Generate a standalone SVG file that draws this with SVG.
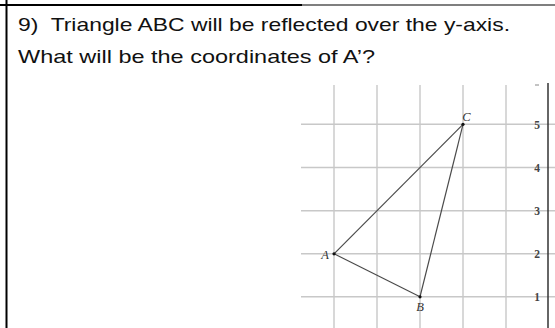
<svg xmlns="http://www.w3.org/2000/svg" width="555" height="328" viewBox="0 0 555 328">
<style>
.q{font-family:"Liberation Sans","Open Sans",sans-serif;font-size:19px;fill:#111;white-space:pre}
.grid{stroke:#c8c8c8;stroke-width:1.4;fill:none}
.edge{stroke:#4a4a4a;stroke-width:1.2;fill:none}
.num{font-family:"Liberation Serif","DejaVu Serif",serif;font-size:11.5px;font-weight:bold;fill:#444;text-anchor:middle}
.pt{font-family:"Liberation Serif","DejaVu Serif",serif;font-size:12.5px;font-style:italic;fill:#333;text-anchor:middle}
</style>
<rect width="555" height="328" fill="#fff"/>
<g id="frame">
<line x1="0" y1="5" x2="302" y2="5" stroke="#000" stroke-width="2"/>
<line x1="300" y1="5" x2="555" y2="5" stroke="#000" stroke-width="1.2"/>
<line x1="6.5" y1="0" x2="6.5" y2="328" stroke="#000" stroke-width="2"/>
</g>
<g id="question">
<text class="q" x="18" y="31" textLength="492" lengthAdjust="spacingAndGlyphs" xml:space="preserve">9)  Triangle ABC will be reflected over the y-axis.</text>
<text class="q" x="18" y="63" textLength="357" lengthAdjust="spacingAndGlyphs">What will be the coordinates of A’?</text>
</g>
<g id="grid">
<line class="grid" x1="334" y1="85" x2="334" y2="328"/>
<line class="grid" x1="377" y1="85" x2="377" y2="328"/>
<line class="grid" x1="420" y1="85" x2="420" y2="328"/>
<line class="grid" x1="463" y1="85" x2="463" y2="328"/>
<line class="grid" x1="506" y1="85" x2="506" y2="328"/>
<line class="grid" x1="301" y1="124.3" x2="555" y2="124.3"/>
<line class="grid" x1="301" y1="167.5" x2="555" y2="167.5"/>
<line class="grid" x1="301" y1="210.7" x2="555" y2="210.7"/>
<line class="grid" x1="301" y1="253.8" x2="555" y2="253.8"/>
<line class="grid" x1="301" y1="296.8" x2="555" y2="296.8"/>
<line x1="548" y1="83" x2="548" y2="328" stroke="#333" stroke-width="1.5"/>
<line x1="535" y1="85" x2="539" y2="85" stroke="#888" stroke-width="1"/>
</g>
<g id="axis-labels">
<text class="num" x="537" y="128.5">5</text>
<text class="num" x="537" y="171.5">4</text>
<text class="num" x="537" y="215">3</text>
<text class="num" x="537" y="258">2</text>
<text class="num" x="537" y="301">1</text>
</g>
<g id="connectors">
<line class="edge" x1="334" y1="253.8" x2="463" y2="124.3"/>
<line class="edge" x1="334" y1="253.8" x2="420" y2="296.8"/>
<line class="edge" x1="420" y1="296.8" x2="463" y2="124.3"/>
</g>
<g id="A"><circle cx="334" cy="253.8" r="1.6" fill="#111"/><text class="pt" x="325" y="258.5">A</text></g>
<g id="B"><circle cx="420" cy="296.8" r="1.6" fill="#111"/><text class="pt" x="420" y="311">B</text></g>
<g id="C"><circle cx="463" cy="124.3" r="1.6" fill="#111"/><text class="pt" x="466.5" y="120.5">C</text></g>
</svg>
